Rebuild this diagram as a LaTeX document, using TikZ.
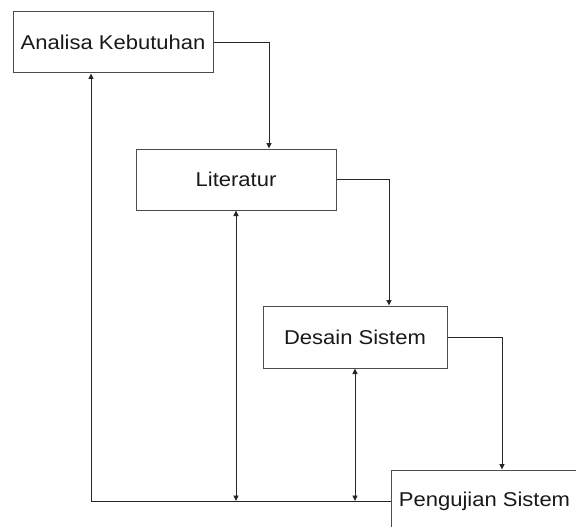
\documentclass[tikz,border=0pt]{standalone}
\usepackage{fontspec}
\setmainfont[FakeStretch=1.1]{Liberation Sans}
\usetikzlibrary{arrows.meta,calc}
\begin{document}
\begin{tikzpicture}[x=1pt,y=-1pt,
  boxn/.style={draw=black!70,line width=1pt,rectangle,inner sep=0pt,font=\fontsize{20}{24}\selectfont,text=black!90},
  conn/.style={draw=black!85,line width=0.9pt},
  tip/.style={-{Triangle[length=5.5pt,width=5pt]}},
  both/.style={{Triangle[length=5.5pt,width=5pt]}-{Triangle[length=5.5pt,width=5pt]}}]
\useasboundingbox (0,0) rectangle (576,527);
\clip (0,0) rectangle (576,527);
\node[boxn,minimum width=200pt,minimum height=61pt] (ak) at (113,42.5) {Analisa Kebutuhan};
\node[boxn,minimum width=200pt,minimum height=61pt] (lit) at (236,179.5) {Literatur};
\node[boxn,minimum width=184pt,minimum height=62pt] (des) at (355,337) {Desain Sistem};
\node[boxn,minimum width=187pt,minimum height=62pt] (pen) at (484.5,501) {Pengujian Sistem};
\draw[conn,tip] (ak.east) -| ($(lit.north)+(33,0)$);
\draw[conn,tip] (lit.east) -| ($(des.north)+(34,0)$);
\draw[conn,tip] (des.east) -| ($(pen.north)+(17.5,0)$);
\draw[conn,tip] (pen.west) -| ($(ak.south)+(-22,0)$);
\coordinate (lb) at (lit.south |- pen.west);
\coordinate (db) at (des.south |- pen.west);
\draw[conn,both] (lit.south) -- (lb);
\draw[conn,both] (des.south) -- (db);
\end{tikzpicture}
\end{document}
